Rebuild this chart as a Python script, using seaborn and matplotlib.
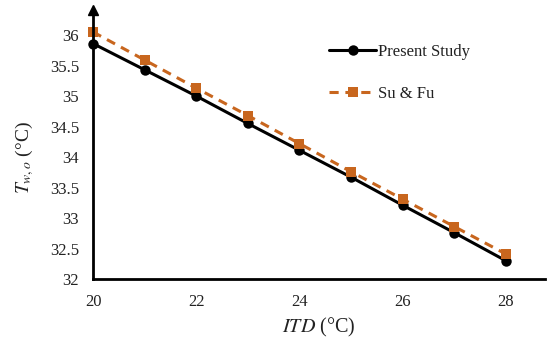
import matplotlib
matplotlib.use("Agg")
import matplotlib.pyplot as plt
import seaborn as sns
import pandas as pd

itd = [20, 21, 22, 23, 24, 25, 26, 27, 28]
present_study = [35.86, 35.43, 35.00, 34.55, 34.11, 33.67, 33.21, 32.76, 32.30]
su_fu = [36.05, 35.59, 35.13, 34.68, 34.22, 33.76, 33.31, 32.86, 32.41]
series_names = ["Present Study", "Su & Fu"]
x_ticks = [20, 22, 24, 26, 28]
y_ticks = [32, 32.5, 33, 33.5, 34, 34.5, 35, 35.5, 36]

df = pd.DataFrame({
    "ITD": itd * 2,
    "Two": present_study + su_fu,
    "Series": [series_names[0]] * len(itd) + [series_names[1]] * len(itd),
})

sns.set_theme(style="white")
plt.rcParams["font.family"] = ["Liberation Serif", "DejaVu Serif"]
plt.rcParams["mathtext.fontset"] = "stix"

fig = plt.figure(figsize=(5.48, 3.38), dpi=100)
ax = fig.add_axes([93 / 548, 1 - 279 / 338, (545 - 93) / 548, (279 - 10) / 338])

palette = {series_names[0]: "black", series_names[1]: "#C8661E"}
sns.lineplot(data=df, x="ITD", y="Two", hue="Series", style="Series",
             palette=palette, markers={series_names[0]: "o", series_names[1]: "s"},
             dashes={series_names[0]: "", series_names[1]: (3, 2.2)},
             linewidth=2.2, markersize=7.5, markeredgewidth=0, ax=ax)
for line in ax.lines:
    line.set_clip_on(False)
    if line.get_label() == series_names[0]:
        line.set_zorder(3)

xmax = 28.76
ax.set_xlim(20, xmax)
ax.set_ylim(32, 36.41)
ax.set_xticks(x_ticks)
ax.set_xticks([xmax], minor=True)
ax.set_yticks(y_ticks)
ax.set_yticklabels([f"{v:g}" for v in y_ticks])
for s in ["top", "right"]:
    ax.spines[s].set_visible(False)
for s in ["left", "bottom"]:
    ax.spines[s].set_color("black")
    ax.spines[s].set_linewidth(2)
ax.tick_params(axis="both", which="both", direction="out", length=4, width=1.8,
               color="black", labelsize=12, labelcolor="#222222")
ax.tick_params(axis="x", which="both", pad=7)
ax.tick_params(axis="y", which="both", pad=6)

# axis arrow
ax.plot([0], [1], marker="^", color="black", markersize=7, transform=ax.transAxes, clip_on=False)

ax.set_xlabel("$ITD$ (°C)", fontsize=14.5, color="#222222", labelpad=4)
ax.set_ylabel("$T_{w,o}$ (°C)", fontsize=14, color="#222222")
ax.yaxis.set_label_coords(-0.125, 0.45)

leg = ax.legend(loc="upper left", bbox_to_anchor=(0.49, 0.93), frameon=False,
                fontsize=12, labelspacing=1.55, handlelength=2.8, handletextpad=0.1,
                title=None)
for t in leg.get_texts():
    t.set_color("#222222")

fig.savefig("out.png", dpi=100)
